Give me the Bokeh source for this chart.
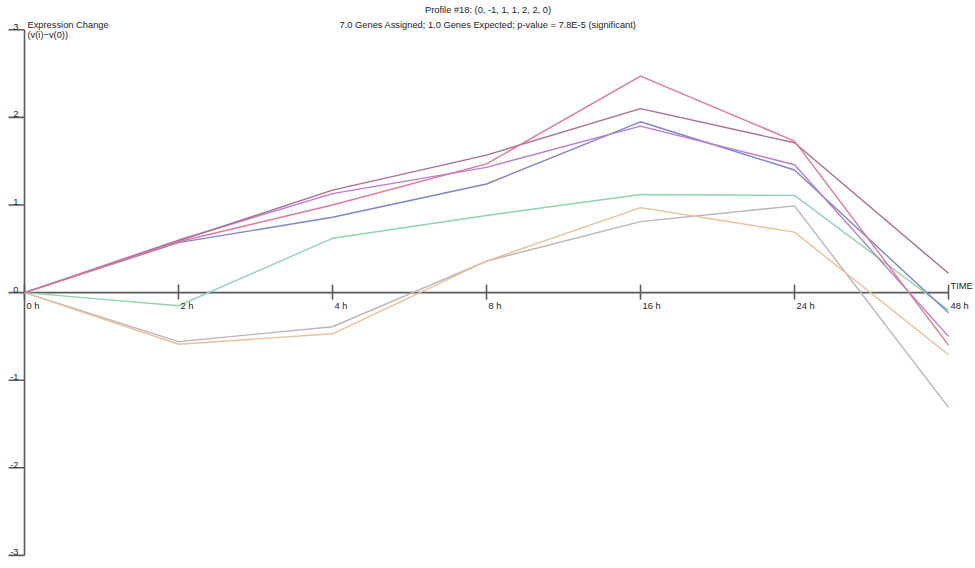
from bokeh.plotting import figure
from bokeh.models import Range1d
from bokeh.core.properties import value
from bokeh.embed import file_html
from bokeh.resources import INLINE

# ---- texts ----
title_line1 = "Profile #18: (0, -1, 1, 1, 2, 2, 0)"
title_line2 = "7.0 Genes Assigned; 1.0 Genes Expected; p-value = 7.8E-5 (significant)"
y_title_1 = "Expression Change"
y_title_2 = "(v(i)\u2212v(0))"
x_title = "TIME"
time_labels = ["0 h", "2 h", "4 h", "8 h", "16 h", "24 h", "48 h"]
y_ticks = [3, 2, 1, 0, -1, -2, -3]
y_tick_labels = ["3", "2", "1", "0", "-1", "-2", "-3"]

# ---- data (expression change per gene) ----
gene_gray = [0, -0.56, -0.39, 0.36, 0.81, 0.99, -1.31]
gene_tan = [0, -0.59, -0.47, 0.36, 0.97, 0.69, -0.71]
gene_green = [0, -0.15, 0.62, 0.88, 1.12, 1.11, -0.20]
gene_blue = [0, 0.57, 0.86, 1.24, 1.95, 1.40, -0.23]
gene_violet = [0, 0.60, 1.13, 1.43, 1.90, 1.46, -0.50]
gene_mauve = [0, 0.59, 1.17, 1.57, 2.10, 1.71, 0.22]
gene_pink = [0, 0.58, 1.00, 1.47, 2.47, 1.73, -0.60]

series = [
    (gene_gray, "#bdb3b8"),
    (gene_tan, "#e8c09a"),
    (gene_green, "#92d4ad"),
    (gene_blue, "#7c86c6"),
    (gene_violet, "#b87cd0"),
    (gene_mauve, "#a86e94"),
    (gene_pink, "#e07896"),
]

W, H = 975, 566
X0_PX, X_STEP = 24.0, 154.0
YTOP_PX, Y_STEP = 29.3, 87.6

xs = list(range(len(time_labels)))
px_x = 1.0 / X_STEP
px_y = 1.0 / Y_STEP

p = figure(width=W, height=H, output_backend="svg", toolbar_location=None,
           x_range=Range1d(-X0_PX / X_STEP, (W - X0_PX) / X_STEP),
           y_range=Range1d(3 - (H - YTOP_PX) / Y_STEP, 3 + YTOP_PX / Y_STEP),
           min_border=0)
p.axis.visible = False
p.grid.visible = False
p.outline_line_color = None
p.background_fill_color = "white"
p.border_fill_color = "white"

FONT = value("Liberation Sans")
FS = value("9.3px")
TXT = "#222222"
AX = "#5a5a5a"

# axes lines
p.segment(x0=[0], y0=[min(y_ticks)], x1=[0], y1=[max(y_ticks)], line_color=AX, line_width=1.6)
p.segment(x0=[xs[0]], y0=[0], x1=[xs[-1]], y1=[0], line_color=AX, line_width=1.6)
# y ticks
p.segment(x0=[-16 * px_x] * len(y_ticks), y0=y_ticks, x1=[0] * len(y_ticks), y1=y_ticks,
          line_color=AX, line_width=1.6)
# x ticks
p.segment(x0=xs, y0=[8 * px_y] * len(xs), x1=xs, y1=[-7 * px_y] * len(xs),
          line_color=AX, line_width=1.6)

# data lines
for vals, col in series:
    p.line(xs, vals, line_color=col, line_width=1.4)

# tick labels
p.text(x=[0] * len(y_ticks), y=y_ticks, text=y_tick_labels, text_font=FONT, text_font_size=FS,
       text_color=TXT, text_align="right", text_baseline="alphabetic", x_offset=-6, y_offset=-3)
p.text(x=xs, y=[0] * len(xs), text=time_labels, text_font=FONT, text_font_size=FS,
       text_color=TXT, text_align="left", text_baseline="middle", x_offset=2, y_offset=13)
p.text(x=[xs[-1]], y=[0], text=[x_title], text_font=FONT, text_font_size=FS,
       text_color=TXT, text_align="left", text_baseline="middle", x_offset=2, y_offset=-7)

# y axis title
p.text(x=[0, 0], y=[3, 3], text=[y_title_1, y_title_2], text_font=FONT, text_font_size=FS,
       text_color=TXT, text_align="left", text_baseline="alphabetic", x_offset=3, y_offset=[-5, 5])

# titles
p.text(x=[3, 3], y=[3, 3], text=[title_line1, title_line2], text_font=FONT, text_font_size=FS,
       text_color=TXT, text_align="center", text_baseline="middle", x_offset=1.5, y_offset=[-20, -5])

open("out.html", "w").write(file_html(p, INLINE))
